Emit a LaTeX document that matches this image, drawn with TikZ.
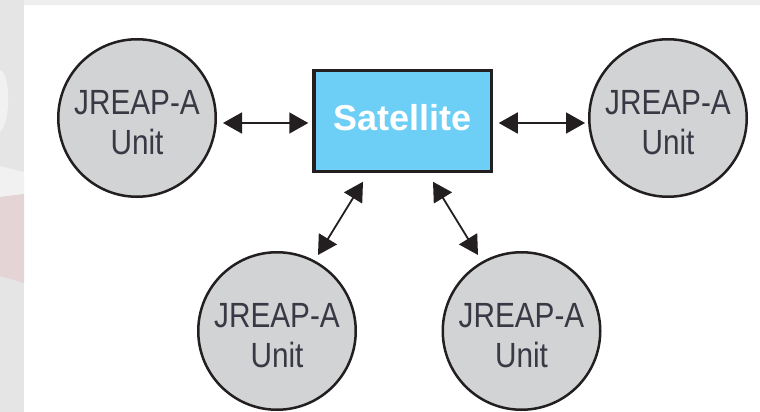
\documentclass[tikz,border=0pt]{standalone}
\usepackage{fontspec}
\setmainfont{Liberation Sans}
\newfontfamily\narrowfont[FakeStretch=0.85]{Liberation Sans}
\usetikzlibrary{arrows.meta,calc}
\definecolor{satblue}{HTML}{6DCFF6}
\definecolor{unitgray}{HTML}{D1D3D4}
\definecolor{edgecol}{HTML}{231F20}
\definecolor{txtcol}{HTML}{3A3845}
\definecolor{bggray}{HTML}{E5E5E5}
\definecolor{topgray}{HTML}{EEEEEE}
\definecolor{bgpink}{HTML}{E4D4D5}
\definecolor{bglight}{HTML}{F1F1F1}
\begin{document}
\begin{tikzpicture}[x=1pt,y=-1pt,
  unitnode/.style={circle,draw=edgecol,fill=unitgray,line width=2.5pt,inner sep=0pt,minimum size=157.5pt},
  unittext/.style={font=\narrowfont\fontsize{35}{40}\selectfont,text=txtcol,align=center,inner sep=0pt},
  satbox/.style={rectangle,draw=edgecol,fill=satblue,line width=3.5pt,inner sep=0pt,minimum width=177.5pt,minimum height=100.5pt},
  sattext/.style={font=\bfseries\fontsize{36}{40}\selectfont,text=white,inner sep=0pt},
  arr/.style={draw=edgecol,line width=1.8pt,{Triangle[length=19pt,width=21pt]}-{Triangle[length=19pt,width=21pt]}}
]
\useasboundingbox (0,0) rectangle (760,412);
% background
\fill[white] (0,0) rectangle (760,412);
\fill[topgray] (0,0) rectangle (760,5.5);
\fill[bggray] (0,0) rectangle (24,412);
\fill[bglight] (0,166) -- (24,172) -- (24,194) -- (0,197) -- cycle;
\fill[bgpink] (0,197) -- (24,194) -- (24,283) -- (0,276) -- cycle;
\fill[bglight] (0,70) .. controls (10,72) and (12,120) .. (0,132) -- cycle;

% nodes
\node[satbox] (sat) at (402.5,121) {};
\node[sattext] (satlabel) at ($(sat.center)+(0,-3)$) {Satellite};

\node[unitnode] (tl) at (137,118) {};
\node[unitnode] (tr) at (668,118) {};
\node[unitnode] (bl) at (277,331) {};
\node[unitnode] (br) at (521.5,331) {};

\node[unittext] (tlt) at ($(tl.center)+(0,4.5)$) {JREAP-A\\Unit};
\node[unittext] (trt) at ($(tr.center)+(0,4.5)$) {JREAP-A\\Unit};
\node[unittext] (blt) at ($(bl.center)+(0,4.5)$) {JREAP-A\\Unit};
\node[unittext] (brt) at ($(br.center)+(0,4.5)$) {JREAP-A\\Unit};

% connectors
\draw[arr] ($(tl.east)+(6,5)$) -- ($(sat.west)+(-3.75,2)$);
\draw[arr] ($(sat.east)+(5.75,2)$) -- ($(tr.west)+(-3,5)$);
\draw[arr] ($(sat.south)+(-39.5,8.75)$) -- ($(bl.center)+(41,-76)$);
\draw[arr] ($(sat.south)+(30.5,8.75)$) -- ($(br.center)+(-43.5,-76)$);
\end{tikzpicture}
\end{document}
